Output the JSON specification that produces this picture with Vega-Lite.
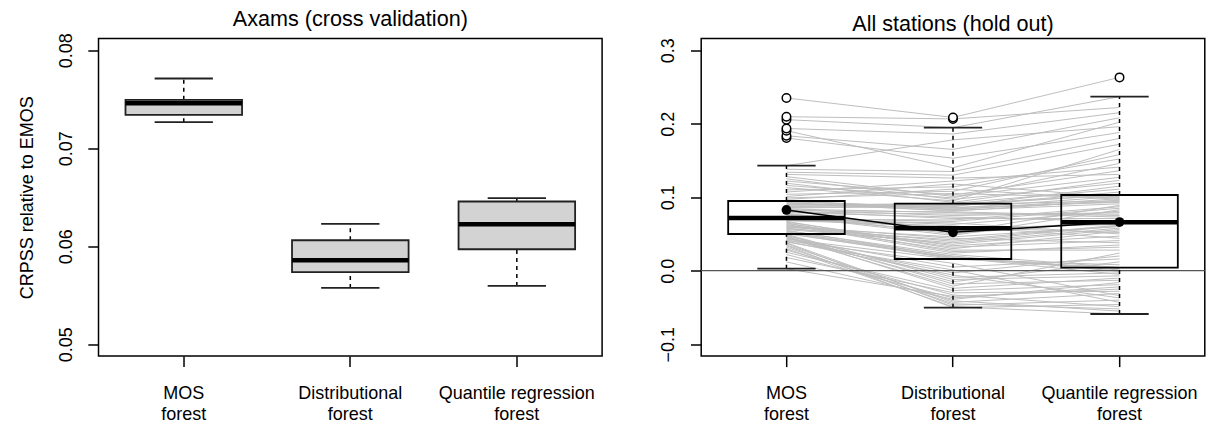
{
  "$schema": "https://vega.github.io/schema/vega-lite/v6.json",
  "background": "white",
  "padding": {"left": 17.5, "top": 7.5, "right": 0, "bottom": 0},
  "bounds": "flush",
  "spacing": 98.7,
  "config": {
    "font": "Liberation Sans",
    "view": {"stroke": "#000000", "strokeWidth": 1.5},
    "axis": {
      "labelFont": "Liberation Sans", "labelFontSize": 18, "labelColor": "#000000",
      "titleFont": "Liberation Sans", "titleFontSize": 18, "titleFontWeight": "normal", "titleColor": "#000000",
      "tickColor": "#000000", "tickWidth": 1.5, "tickSize": 10.7, "domain": false, "grid": false
    },
    "title": {"font": "Liberation Sans", "fontSize": 21.6, "fontWeight": "normal", "color": "#000000"}
  },
  "datasets": {
    "axams": [
      {"m": "m1", "lo": 0.07265, "q1": 0.0734, "med": 0.07459, "q3": 0.07493, "hi": 0.07711},
      {"m": "m2", "lo": 0.05574, "q1": 0.05735, "med": 0.05857, "q3": 0.06061, "hi": 0.06228},
      {"m": "m3", "lo": 0.05595, "q1": 0.05969, "med": 0.06224, "q3": 0.06456, "hi": 0.0649}
    ],
    "allsum": [
      {"m": "m1", "lo": 0.0027, "q1": 0.0499, "med": 0.0717, "q3": 0.0948, "hi": 0.1429, "mean": 0.0826},
      {"m": "m2", "lo": -0.0503, "q1": 0.0159, "med": 0.0577, "q3": 0.0912, "hi": 0.1946, "mean": 0.0522},
      {"m": "m3", "lo": -0.0589, "q1": 0.0041, "med": 0.0658, "q3": 0.103, "hi": 0.2367, "mean": 0.0662}
    ],
    "stations": [
      {"s": 1, "m1": 0.0027, "m2": -0.035, "m3": -0.025},
      {"s": 2, "m1": 0.012, "m2": -0.039, "m3": -0.016},
      {"s": 3, "m1": 0.018, "m2": -0.03, "m3": -0.028},
      {"s": 4, "m1": 0.022, "m2": -0.037, "m3": -0.022},
      {"s": 5, "m1": 0.025, "m2": -0.027, "m3": -0.019},
      {"s": 6, "m1": 0.028, "m2": -0.033, "m3": -0.049},
      {"s": 7, "m1": 0.03, "m2": -0.049, "m3": -0.0589},
      {"s": 8, "m1": 0.032, "m2": -0.045, "m3": -0.052},
      {"s": 9, "m1": 0.034, "m2": -0.0503, "m3": -0.046},
      {"s": 10, "m1": 0.035, "m2": -0.041, "m3": -0.055},
      {"s": 11, "m1": 0.037, "m2": -0.047, "m3": -0.04},
      {"s": 12, "m1": 0.038, "m2": -0.043, "m3": -0.031},
      {"s": 13, "m1": 0.039, "m2": 0.001, "m3": -0.043},
      {"s": 14, "m1": 0.04, "m2": -0.006, "m3": -0.037},
      {"s": 15, "m1": 0.041, "m2": 0.01, "m3": -0.034},
      {"s": 16, "m1": 0.042, "m2": -0.003, "m3": 0.02},
      {"s": 17, "m1": 0.043, "m2": 0.0155, "m3": 0.008},
      {"s": 18, "m1": 0.044, "m2": 0.005, "m3": 0.016},
      {"s": 19, "m1": 0.045, "m2": -0.021, "m3": 0.024},
      {"s": 20, "m1": 0.046, "m2": -0.015, "m3": 0.012},
      {"s": 21, "m1": 0.047, "m2": -0.024, "m3": -0.01},
      {"s": 22, "m1": 0.048, "m2": -0.009, "m3": -0.003},
      {"s": 23, "m1": 0.0485, "m2": -0.018, "m3": -0.013},
      {"s": 24, "m1": 0.0495, "m2": -0.012, "m3": -0.007},
      {"s": 25, "m1": 0.0503, "m2": 0.018, "m3": -0.005},
      {"s": 26, "m1": 0.051, "m2": 0.0163, "m3": 0.0038},
      {"s": 27, "m1": 0.052, "m2": 0.02, "m3": -0.001},
      {"s": 28, "m1": 0.053, "m2": 0.017, "m3": 0.003},
      {"s": 29, "m1": 0.054, "m2": 0.022, "m3": 0.0044},
      {"s": 30, "m1": 0.055, "m2": 0.019, "m3": 0.001},
      {"s": 31, "m1": 0.056, "m2": 0.038, "m3": 0.058},
      {"s": 32, "m1": 0.057, "m2": 0.042, "m3": 0.062},
      {"s": 33, "m1": 0.058, "m2": 0.036, "m3": 0.056},
      {"s": 34, "m1": 0.059, "m2": 0.046, "m3": 0.06},
      {"s": 35, "m1": 0.06, "m2": 0.04, "m3": 0.061},
      {"s": 36, "m1": 0.061, "m2": 0.044, "m3": 0.038},
      {"s": 37, "m1": 0.062, "m2": 0.028, "m3": 0.028},
      {"s": 38, "m1": 0.063, "m2": 0.024, "m3": 0.035},
      {"s": 39, "m1": 0.064, "m2": 0.032, "m3": 0.041},
      {"s": 40, "m1": 0.065, "m2": 0.026, "m3": 0.032},
      {"s": 41, "m1": 0.066, "m2": 0.034, "m3": 0.047},
      {"s": 42, "m1": 0.067, "m2": 0.03, "m3": 0.054},
      {"s": 43, "m1": 0.068, "m2": 0.061, "m3": 0.044},
      {"s": 44, "m1": 0.069, "m2": 0.065, "m3": 0.05},
      {"s": 45, "m1": 0.0695, "m2": 0.059, "m3": 0.052},
      {"s": 46, "m1": 0.07, "m2": 0.069, "m3": 0.087},
      {"s": 47, "m1": 0.071, "m2": 0.063, "m3": 0.081},
      {"s": 48, "m1": 0.0717, "m2": 0.067, "m3": 0.085},
      {"s": 49, "m1": 0.073, "m2": 0.052, "m3": 0.089},
      {"s": 50, "m1": 0.074, "m2": 0.048, "m3": 0.083},
      {"s": 51, "m1": 0.075, "m2": 0.056, "m3": 0.064},
      {"s": 52, "m1": 0.076, "m2": 0.05, "m3": 0.069},
      {"s": 53, "m1": 0.077, "m2": 0.0577, "m3": 0.063},
      {"s": 54, "m1": 0.078, "m2": 0.054, "m3": 0.0658},
      {"s": 55, "m1": 0.079, "m2": 0.073, "m3": 0.067},
      {"s": 56, "m1": 0.08, "m2": 0.077, "m3": 0.077},
      {"s": 57, "m1": 0.081, "m2": 0.071, "m3": 0.071},
      {"s": 58, "m1": 0.082, "m2": 0.08, "m3": 0.075},
      {"s": 59, "m1": 0.083, "m2": 0.075, "m3": 0.079},
      {"s": 60, "m1": 0.084, "m2": 0.079, "m3": 0.073},
      {"s": 61, "m1": 0.085, "m2": 0.089, "m3": 0.1035},
      {"s": 62, "m1": 0.086, "m2": 0.087, "m3": 0.115},
      {"s": 63, "m1": 0.087, "m2": 0.0908, "m3": 0.1025},
      {"s": 64, "m1": 0.088, "m2": 0.088, "m3": 0.107},
      {"s": 65, "m1": 0.089, "m2": 0.0916, "m3": 0.111},
      {"s": 66, "m1": 0.09, "m2": 0.09, "m3": 0.095},
      {"s": 67, "m1": 0.091, "m2": 0.082, "m3": 0.091},
      {"s": 68, "m1": 0.092, "m2": 0.084, "m3": 0.094},
      {"s": 69, "m1": 0.093, "m2": 0.081, "m3": 0.096},
      {"s": 70, "m1": 0.094, "m2": 0.086, "m3": 0.093},
      {"s": 71, "m1": 0.0945, "m2": 0.083, "m3": 0.098},
      {"s": 72, "m1": 0.0951, "m2": 0.085, "m3": 0.101},
      {"s": 73, "m1": 0.097, "m2": 0.111, "m3": 0.097},
      {"s": 74, "m1": 0.099, "m2": 0.105, "m3": 0.099},
      {"s": 75, "m1": 0.101, "m2": 0.118, "m3": 0.1},
      {"s": 76, "m1": 0.104, "m2": 0.108, "m3": 0.158},
      {"s": 77, "m1": 0.107, "m2": 0.122, "m3": 0.141},
      {"s": 78, "m1": 0.11, "m2": 0.114, "m3": 0.152},
      {"s": 79, "m1": 0.113, "m2": 0.095, "m3": 0.165},
      {"s": 80, "m1": 0.116, "m2": 0.099, "m3": 0.146},
      {"s": 81, "m1": 0.119, "m2": 0.093, "m3": 0.123},
      {"s": 82, "m1": 0.122, "m2": 0.103, "m3": 0.136},
      {"s": 83, "m1": 0.125, "m2": 0.097, "m3": 0.119},
      {"s": 84, "m1": 0.128, "m2": 0.101, "m3": 0.127},
      {"s": 85, "m1": 0.131, "m2": 0.126, "m3": 0.131},
      {"s": 86, "m1": 0.134, "m2": 0.13, "m3": 0.172},
      {"s": 87, "m1": 0.138, "m2": 0.135, "m3": 0.18},
      {"s": 88, "m1": 0.1429, "m2": 0.178, "m3": 0.196},
      {"s": 89, "m1": 0.1805, "m2": 0.153, "m3": 0.188},
      {"s": 90, "m1": 0.1835, "m2": 0.165, "m3": 0.208},
      {"s": 91, "m1": 0.1905, "m2": 0.14, "m3": 0.202},
      {"s": 92, "m1": 0.1935, "m2": 0.186, "m3": 0.215},
      {"s": 93, "m1": 0.2055, "m2": 0.1946, "m3": 0.2367},
      {"s": 94, "m1": 0.2095, "m2": 0.2065, "m3": 0.222},
      {"s": 95, "m1": 0.235, "m2": 0.2085, "m3": 0.263}
    ]
  },
  "hconcat": [
    {
      "width": 503.6,
      "height": 317.4,
      "title": {"text": "Axams (cross validation)", "baseline": "alphabetic", "offset": -14.5, "frame": "group", "anchor": "middle"},
      "data": {"name": "axams"},
      "layer": [
        {
          "mark": {"type": "rule", "color": "#000000", "strokeWidth": 1.5, "strokeDash": [4, 4]},
          "encoding": {
            "x": {"field": "m", "type": "nominal", "scale": {"domain": ["m1", "m2", "m3"], "paddingInner": 0.3, "paddingOuter": 0.162},
              "axis": {"title": null, "labelAngle": 0, "labelAlign": "center", "labelBaseline": "alphabetic", "labelPadding": 32.3, "labelLineHeight": 21, "bandPosition": 0.5,
                "labelExpr": "datum.value == 'm1' ? ['MOS', 'forest'] : datum.value == 'm2' ? ['Distributional', 'forest'] : ['Quantile regression', 'forest']"}},
            "y": {"field": "q3", "type": "quantitative", "scale": {"domain": [0.04881, 0.08119], "nice": false, "zero": false},
              "axis": {"title": "CRPSS relative to EMOS", "values": [0.05, 0.06, 0.07, 0.08], "format": ".2f", "labelAngle": 270, "labelAlign": "center", "labelBaseline": "alphabetic", "labelPadding": 16.5,
                "titleAngle": 270, "titleX": -66, "titleY": 158.7, "titleAlign": "center", "titleBaseline": "alphabetic"}},
            "y2": {"field": "hi"}
          }
        },
        {
          "mark": {"type": "rule", "color": "#000000", "strokeWidth": 1.5, "strokeDash": [4, 4]},
          "encoding": {
            "x": {"field": "m", "type": "nominal"},
            "y": {"field": "lo", "type": "quantitative"},
            "y2": {"field": "q1"}
          }
        },
        {
          "mark": {"type": "tick", "color": "#222222", "size": 58.3, "thickness": 1.8, "opacity": 1},
          "encoding": {
            "x": {"field": "m", "type": "nominal"},
            "y": {"field": "hi", "type": "quantitative"}
          }
        },
        {
          "mark": {"type": "tick", "color": "#222222", "size": 58.3, "thickness": 1.8, "opacity": 1},
          "encoding": {
            "x": {"field": "m", "type": "nominal"},
            "y": {"field": "lo", "type": "quantitative"}
          }
        },
        {
          "mark": {"type": "bar", "fill": "#d3d3d3", "stroke": "#222222", "strokeWidth": 1.8},
          "encoding": {
            "x": {"field": "m", "type": "nominal"},
            "y": {"field": "q1", "type": "quantitative"},
            "y2": {"field": "q3"}
          }
        },
        {
          "mark": {"type": "tick", "color": "#000000", "size": 116.6, "thickness": 4.5, "opacity": 1},
          "encoding": {
            "x": {"field": "m", "type": "nominal"},
            "y": {"field": "med", "type": "quantitative"}
          }
        }
      ]
    },
    {
      "width": 503.6,
      "height": 317.4,
      "title": {"text": "All stations (hold out)", "baseline": "alphabetic", "offset": -14.5, "frame": "group", "anchor": "middle"},
      "layer": [
        {
          "data": {"name": "allsum"},
          "mark": {"type": "bar", "fill": "#ffffff", "strokeWidth": 0},
          "encoding": {
            "x": {"field": "m", "type": "nominal", "scale": {"domain": ["m1", "m2", "m3"], "paddingInner": 0.3, "paddingOuter": 0.162},
              "axis": {"title": null, "labelAngle": 0, "labelAlign": "center", "labelBaseline": "alphabetic", "labelPadding": 32.3, "labelLineHeight": 21, "bandPosition": 0.5,
                "labelExpr": "datum.value == 'm1' ? ['MOS', 'forest'] : datum.value == 'm2' ? ['Distributional', 'forest'] : ['Quantile regression', 'forest']"}},
            "y": {"field": "q1", "type": "quantitative", "scale": {"domain": [-0.1159, 0.3159], "nice": false, "zero": false},
              "axis": {"title": null, "values": [-0.1, 0, 0.1, 0.2, 0.3], "format": ".1f", "labelAngle": 270, "labelAlign": "center", "labelBaseline": "alphabetic", "labelPadding": 16.5}},
            "y2": {"field": "q3"}
          }
        },
        {
          "data": {"name": "stations"},
          "transform": [{"fold": ["m1", "m2", "m3"], "as": ["m", "v"]}],
          "mark": {"type": "line", "color": "#bebebe", "strokeWidth": 1},
          "encoding": {
            "x": {"field": "m", "type": "nominal"},
            "y": {"field": "v", "type": "quantitative"},
            "detail": {"field": "s", "type": "nominal"},
            "order": {"field": "m"}
          }
        },
        {
          "data": {"values": [{}]},
          "mark": {"type": "rule", "color": "#555555", "strokeWidth": 1.3},
          "encoding": {
            "y": {"datum": 0, "type": "quantitative"}
          }
        },
        {
          "data": {"name": "allsum"},
          "mark": {"type": "bar", "fillOpacity": 0, "fill": "#ffffff", "stroke": "#000000", "strokeWidth": 1.8},
          "encoding": {
            "x": {"field": "m", "type": "nominal"},
            "y": {"field": "q1", "type": "quantitative"},
            "y2": {"field": "q3"}
          }
        },
        {
          "data": {"name": "allsum"},
          "mark": {"type": "rule", "color": "#000000", "strokeWidth": 1.5, "strokeDash": [4, 4]},
          "encoding": {
            "x": {"field": "m", "type": "nominal"},
            "y": {"field": "q3", "type": "quantitative"},
            "y2": {"field": "hi"}
          }
        },
        {
          "data": {"name": "allsum"},
          "mark": {"type": "rule", "color": "#000000", "strokeWidth": 1.5, "strokeDash": [4, 4]},
          "encoding": {
            "x": {"field": "m", "type": "nominal"},
            "y": {"field": "lo", "type": "quantitative"},
            "y2": {"field": "q1"}
          }
        },
        {
          "data": {"name": "allsum"},
          "mark": {"type": "tick", "color": "#222222", "size": 58.3, "thickness": 1.8, "opacity": 1},
          "encoding": {
            "x": {"field": "m", "type": "nominal"},
            "y": {"field": "hi", "type": "quantitative"}
          }
        },
        {
          "data": {"name": "allsum"},
          "mark": {"type": "tick", "color": "#222222", "size": 58.3, "thickness": 1.8, "opacity": 1},
          "encoding": {
            "x": {"field": "m", "type": "nominal"},
            "y": {"field": "lo", "type": "quantitative"}
          }
        },
        {
          "data": {"name": "allsum"},
          "mark": {"type": "tick", "color": "#000000", "size": 116.6, "thickness": 4.5, "opacity": 1},
          "encoding": {
            "x": {"field": "m", "type": "nominal"},
            "y": {"field": "med", "type": "quantitative"}
          }
        },
        {
          "data": {"name": "stations"},
          "transform": [
            {"fold": ["m1", "m2", "m3"], "as": ["m", "v"]},
            {"filter": "(datum.m == 'm1' && datum.v > 0.1429) || (datum.m == 'm2' && datum.v > 0.1946) || (datum.m == 'm3' && datum.v > 0.2367)"}
          ],
          "mark": {"type": "point", "shape": "circle", "filled": false, "fill": "#ffffff", "fillOpacity": 1, "stroke": "#000000", "strokeWidth": 1.5, "size": 72, "opacity": 1},
          "encoding": {
            "x": {"field": "m", "type": "nominal"},
            "y": {"field": "v", "type": "quantitative"}
          }
        },
        {
          "data": {"name": "allsum"},
          "mark": {"type": "line", "color": "#000000", "strokeWidth": 1.5},
          "encoding": {
            "x": {"field": "m", "type": "nominal"},
            "y": {"field": "mean", "type": "quantitative"},
            "order": {"field": "m"}
          }
        },
        {
          "data": {"name": "allsum"},
          "mark": {"type": "point", "shape": "circle", "filled": true, "color": "#000000", "size": 95, "opacity": 1},
          "encoding": {
            "x": {"field": "m", "type": "nominal"},
            "y": {"field": "mean", "type": "quantitative"}
          }
        }
      ]
    }
  ]
}
